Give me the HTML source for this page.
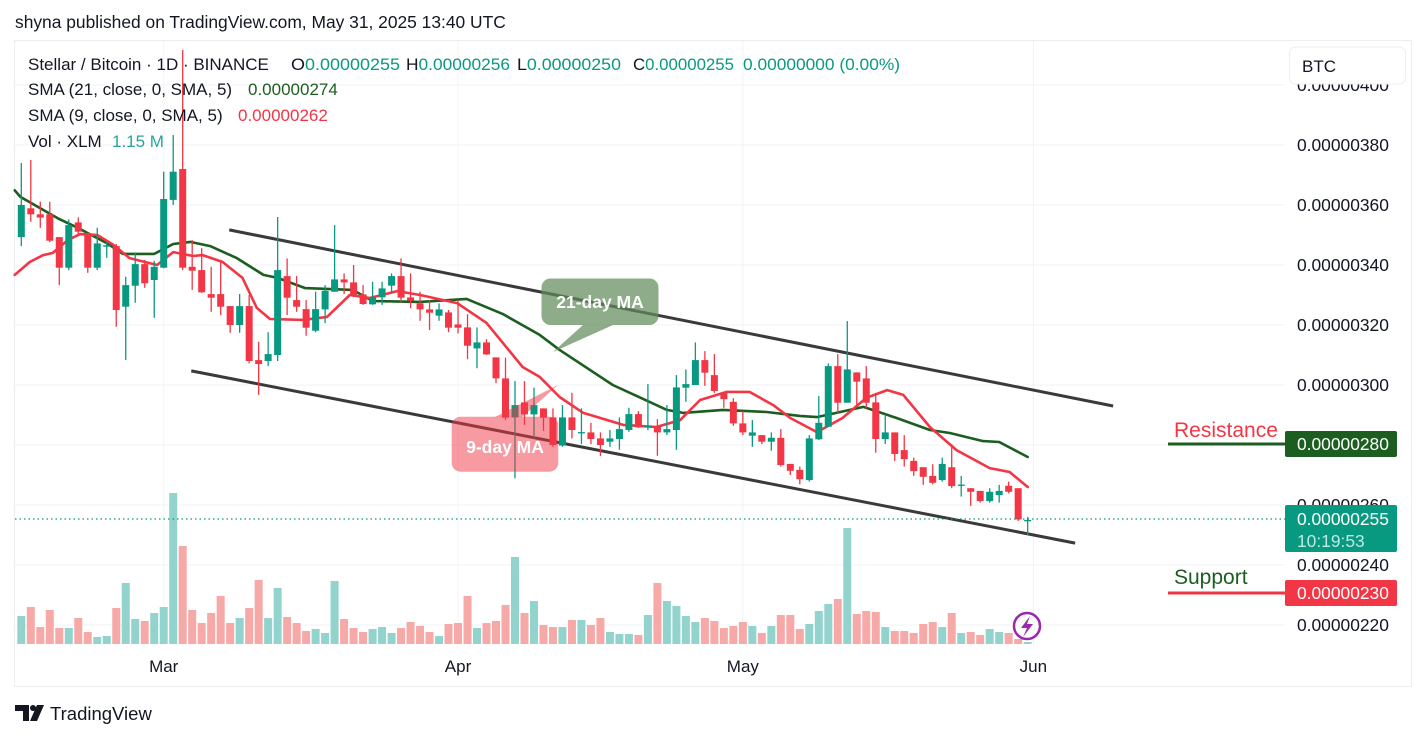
<!DOCTYPE html>
<html><head><meta charset="utf-8"><style>
body{margin:0;background:#fff;}
svg{display:block;font-family:"Liberation Sans",sans-serif;}
</style></head><body>
<svg id="c" width="1427" height="739" viewBox="0 0 1427 739" xmlns="http://www.w3.org/2000/svg">
<rect width="1427" height="739" fill="#fff"/>
<text x="15" y="28" font-size="17.4" fill="#131722">shyna published on TradingView.com, May 31, 2025 13:40 UTC</text>
<rect x="14.5" y="40.5" width="1397" height="646" fill="none" stroke="#ebedf0"/>
<g id="grid"></g>
<g id="vol"></g>
<g id="chan"></g>
<g id="ma"></g>
<g id="candles"></g>
<line x1="15" y1="519" x2="1285" y2="519" stroke="#089981" stroke-width="1.3" stroke-dasharray="1.5 3"/>
<g>
<path d="M583 325 L553 352 L613 325 Z" fill="rgba(98,140,92,0.72)"/>
<rect x="541.5" y="278.5" width="117" height="46.5" rx="9" fill="rgba(98,140,92,0.72)"/>
<text x="600" y="308" font-size="17.5" font-weight="bold" fill="#fff" text-anchor="middle">21-day MA</text>
</g>
<g>
<path d="M495 417 L558 385 L522 417 Z" fill="rgba(242,54,69,0.5)"/>
<rect x="451.7" y="416.7" width="106.6" height="55" rx="9" fill="rgba(242,54,69,0.5)"/>
<text x="505" y="453" font-size="17.5" font-weight="bold" fill="#fff" text-anchor="middle">9-day MA</text>
</g>
<g id="axis"></g>
<g id="taxis"></g>
<g font-size="17">
<text x="28" y="70" fill="#131722">Stellar / Bitcoin · 1D · BINANCE</text>
<text x="291" y="70" fill="#131722" textLength="109" lengthAdjust="spacingAndGlyphs">O<tspan fill="#089981">0.00000255</tspan></text>
<text x="406" y="70" fill="#131722" textLength="104" lengthAdjust="spacingAndGlyphs">H<tspan fill="#089981">0.00000256</tspan></text>
<text x="517" y="70" fill="#131722" textLength="104" lengthAdjust="spacingAndGlyphs">L<tspan fill="#089981">0.00000250</tspan></text>
<text x="633" y="70" fill="#131722" textLength="101" lengthAdjust="spacingAndGlyphs">C<tspan fill="#089981">0.00000255</tspan></text>
<text x="743" y="70" fill="#089981" textLength="157" lengthAdjust="spacingAndGlyphs">0.00000000 (0.00%)</text>
<text x="28" y="95" fill="#131722">SMA (21, close, 0, SMA, 5)</text>
<text x="248" y="95" fill="#1b5e20">0.00000274</text>
<text x="28" y="121" fill="#131722">SMA (9, close, 0, SMA, 5)</text>
<text x="238" y="121" fill="#f23645">0.00000262</text>
<text x="28" y="147" fill="#131722">Vol · XLM</text>
<text x="112" y="147" fill="#26a69a">1.15 M</text>
</g>
<g>
<rect x="1289.5" y="47" width="116" height="37" rx="6" fill="#fff" stroke="#eceef2"/>
<text x="1302" y="72" font-size="17" fill="#131722">BTC</text>
</g>
<g>
<text x="1174" y="437" font-size="21" fill="#f23645">Resistance</text>
<line x1="1168" y1="444" x2="1285" y2="444" stroke="#1b5e20" stroke-width="3"/>
<rect x="1285" y="431" width="112" height="26" rx="2" fill="#1b5e20"/>
<text x="1297" y="450" font-size="17.4" fill="#fff">0.00000280</text>
</g>
<g>
<text x="1174" y="584" font-size="21" fill="#1b5e20">Support</text>
<line x1="1168" y1="593" x2="1285" y2="593" stroke="#f23645" stroke-width="3"/>
<rect x="1285" y="580" width="112" height="26" rx="2" fill="#f23645"/>
<text x="1297" y="599" font-size="17.4" fill="#fff">0.00000230</text>
</g>
<g>
<rect x="1285" y="505" width="112" height="47" rx="2" fill="#089981"/>
<text x="1297" y="525" font-size="17.4" fill="#fff">0.00000255</text>
<text x="1297" y="547" font-size="17.4" fill="#bfe8e2">10:19:53</text>
</g>
<g>
<circle cx="1027" cy="626" r="13" fill="#fff" stroke="#9c27b0" stroke-width="2.5"/>
<path d="M1030 616 L1021 628 L1027 628 L1023 637 L1033 624 L1027 624 Z" fill="#9c27b0"/>
</g>
<g>
<path d="M15 705 H29 V721 H23 V711 H15 Z" fill="#131722"/>
<circle cx="33" cy="708" r="3" fill="#131722"/>
<path d="M37 705 H44 L37 721 H30 Z" fill="#131722"/>
<text x="50" y="720" font-size="18.5" fill="#131722">TradingView</text>
</g>
<script>
const opens=[349.3,358.9,356.9,356.9,349.3,339.1,354.2,350.7,339.1,346.1,346.3,326.1,333.1,340.3,335,339.1,361.7,372,339.4,338.3,330.3,330.3,326.3,320,326.3,308.3,308,310,336.3,328.3,325.3,318.1,325.2,331.1,335.2,334.2,330.2,326.9,329.2,333.1,336.3,329.2,327.2,325.2,323.1,324.2,320.2,319.2,312.2,314.2,309.2,302.2,289.2,294.2,290.2,292.2,289.2,279.8,289.2,284,284.2,282.2,281.1,282,285,290.3,286.1,286.3,284.2,285,299.1,300,308.3,303.3,297.4,294.4,287.2,283.1,283.3,281.1,282.4,273.7,271.7,268.3,281.9,286.1,306.3,294.1,304.2,302.2,294.2,282,284.2,278.3,274.7,272.6,269.7,268.3,272.6,266.6,265.6,264.7,261.3,263.3,266.4,265.6,255];
const highs=[374,375,361.1,361.1,349.3,355.2,355.9,350.7,352.4,347.8,347,336.1,344.2,341.7,341.4,371.1,383.3,411.7,348.3,345.6,339.4,341.7,326.3,330.3,330,314.4,317.6,356,342.2,336.3,328.3,331.1,333.3,353.3,337.2,340,333.3,334.4,334.4,337.2,342.2,337.2,331.1,328.3,327.2,325,328.3,323.6,319.2,315.3,309.2,309.1,301.3,301.3,299.1,292.2,292.2,293.3,297.4,292.2,287.4,284.2,285,289.2,292.4,291.3,300.3,288.6,293.3,303.3,305.2,314.2,311.3,310.3,297.4,295.6,291.4,288.3,283.3,284.2,285.3,273.7,272.8,283.3,296.3,307.2,310.3,321.3,304.2,306.3,297.4,290.2,284.2,283.3,275.8,272.6,273.6,275.8,280.3,269.7,265.6,264.7,265.6,266.7,267.8,265.6,256];
const lows=[346.3,354.4,352.4,347.6,333.3,338.3,350,337.4,338.3,342.4,319.4,308.3,327.4,332.4,322.4,338.9,360,338.3,331.7,330.7,324.4,323.3,317.4,317.4,307.2,296.7,306.3,308,323.3,324.4,316.4,317.6,320.6,331,330.3,329.3,326.7,326.7,326.7,330.6,327.6,325.6,321.4,318.3,321.4,317.6,317.2,308.6,305.6,310,300.6,288.3,268.9,286.7,282.2,284.7,279.4,279.4,282.2,280.3,280.3,276.3,279.4,278.4,284.4,285.7,285,276.4,283.3,278.4,294.4,300,299.7,297.4,292.4,286.4,283.3,279.4,280.3,278.1,272.8,270,266.9,267.8,281.7,286.1,290.6,294.1,292.6,292.2,277.4,280.3,274.7,272.8,269.7,266.7,266.9,267.8,265.6,262.8,259.7,260.8,260.8,260.8,263.9,254.7,250];
const closes=[360,356.9,355.8,348.1,339.1,353.3,351.1,339.1,347.2,346.6,325,333.3,340.3,333.9,339.4,362,371.1,339.1,338.1,330.9,329.1,326.1,320,326.3,308,307,310.3,338.3,329.1,326.1,319.1,325.3,331.4,335.2,334.2,329.7,327,329.2,332.2,336.3,329.1,328.1,325.2,324.1,325.2,319.1,319.1,313.1,314.2,310.2,302.2,289.1,293.3,290.2,293.3,289.1,280,289.2,285,284.3,282,280,282.2,285.3,290.3,285.9,286.4,284.2,285.3,299.2,300.3,308.3,304.1,298,295.3,287.2,284.2,284.2,281.1,282.4,273.3,271.4,268.6,282.2,287.4,306.3,294.1,305.2,301.1,294.1,282,284.2,277,275.3,271.3,269.4,267.4,273.7,266.3,266.8,264.4,261.3,264.4,264.7,264.4,255.2,255];
const volumes=[28,37,17,34,16,16,26,12,7,8,36,61,25,23,31,37,151,98,34,21,31,48,21,26,36,64,26,56,27,21,13,15,11,63,25,16,12,15,17,11,16,22,18,12,8,20,21,48,16,21,23,39,87,31,43,19,17,17,24,24,19,26,12,10,10,9,29,61,43,38,28,22,26,23,16,18,22,18,11,18,29,29,15,20,33,40,45,116,30,33,32,17,13,13,11,20,22,17,31,11,12,9,15,12,11,5,2];
const sma21Idx=[-0.7,-0.1,4,6,9,10.7,14,16,17.8,19.9,22.7,25.5,27,29.9,34.9,37,42,46.9,50.7,54.6,56.7,62.3,68,69.7,73.9,78.5,82,83.8,88.7,92.2,95.7,97.8,101.3,103,106];
const sma21Val=[364.9,362.7,355.3,352.3,347.3,343.7,343.7,347,347.7,346.3,342.3,336.7,335.7,332.3,331.7,328,327.7,328.7,323.7,316.7,311.7,300,291.7,290.7,291.7,291,289.7,289.3,292.7,289,285,284,281.3,281,276];
const sma9Idx=[-0.7,0.9,2.3,3.3,4.9,6.2,8,9.7,11.4,14.3,16,18.1,19.1,21.2,23.3,24.8,26.2,29.7,32.2,34.6,36.7,39.6,42,45.9,49,52.8,54.6,56.7,59.2,63.4,66.9,69.4,71.5,74.3,76.7,79.2,81,83.8,86.5,89,91.2,92.9,95.7,98.5,102,104.1,106];
const sma9Val=[336.7,341,343.3,344,348.3,350.3,350,346.7,342.3,340,344.3,343,343.3,341,335.7,325.7,322,321.7,322.7,330,329,331.3,330,327.3,320.7,306,302.7,296,290.7,286.7,286,288.3,295,297.7,297.7,293.3,289,284.3,289,295.7,298.3,296.7,286,278.3,272.3,271,266];
const channelUpper=[[21.9,351.7],[115,293]];
const channelLower=[[17.9,304.7],[111,247.3]];
const priceTicks=[400,380,360,340,320,300,280,260,240,220];
const monthLabels=["Mar","Apr","May","Jun"];
const monthIdx=[15,46,76,106.6];

const NS="http://www.w3.org/2000/svg";
function X(i){return 21.3+i*9.494;}
function Y(p){return 145+(380-p)*3;}
function V(v){return 644-v;}
function mk(tag,attrs,parent){const e=document.createElementNS(NS,tag);for(const k in attrs)e.setAttribute(k,attrs[k]);parent.appendChild(e);return e;}
const G=id=>document.getElementById(id);

priceTicks.forEach(t=>{
  const l=mk('line',{x1:15,x2:1285,y1:Y(t),y2:Y(t),stroke:'#f2f3f5'},G('grid'));
  
  
  const tx=mk('text',{x:1297,y:Y(t)+6,'font-size':17.4,fill:'#131722'},G('axis'));
  tx.textContent='0.00000'+t;
  
  
});
monthLabels.forEach((m,k)=>{
  const x=X(monthIdx[k]);
  const l=mk('line',{x1:x,x2:x,y1:41,y2:645,stroke:'#f2f3f5'},G('grid'));
  
  
  const tx=mk('text',{x:x,y:672,'font-size':17,fill:'#131722','text-anchor':'middle'},G('taxis'));
  tx.textContent=m;
  
  
});
volumes.forEach((v,i)=>{
  const up=closes[i]>=opens[i];
  const r=mk('rect',{x:X(i)-4,y:V(v),width:8,height:v,fill:up?'#92d3cd':'#f7a9a8'},G('vol'));
  
  
});
[channelUpper,channelLower].forEach(c=>{
  const l=mk('line',{x1:X(c[0][0]),y1:Y(c[0][1]),x2:X(c[1][0]),y2:Y(c[1][1]),stroke:'#3a3a3a','stroke-width':3},G('chan'));
  
  
});
function maPath(idx,val,color,name){
  const d=idx.map((i,k)=>(k?'L':'M')+X(i).toFixed(1)+' '+Y(val[k]).toFixed(1)).join(' ');
  const p=mk('path',{d:d,fill:'none',stroke:color,'stroke-width':2.6,'stroke-linejoin':'round','stroke-linecap':'round'},G('ma'));
  
  
}
maPath(sma21Idx,sma21Val,'#1b5e20','sma-21-line');
maPath(sma9Idx,sma9Val,'#f23645','sma-9-line');
opens.forEach((o,i)=>{
  const c=closes[i],up=c>=o,col=up?'#089981':'#f23645',x=X(i);
  const g=mk('g',{},G('candles'));
  
  
  mk('line',{x1:x,x2:x,y1:Y(highs[i]),y2:Y(lows[i]),stroke:col,'stroke-width':1.3},g);
  const top=Y(Math.max(o,c)),h=Math.max(1.3,Y(Math.min(o,c))-top);
  mk('rect',{x:x-3.5,y:top,width:7,height:h,fill:col},g);
});
</script>
</svg>
</body></html>
